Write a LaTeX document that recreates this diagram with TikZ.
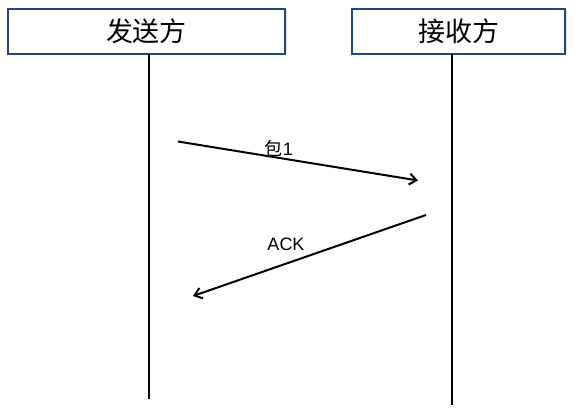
\documentclass[tikz,border=0pt]{standalone}
\usepackage{fontspec}
\setmainfont{Liberation Sans}
\newfontfamily\cjk{Noto Sans CJK SC}
\usetikzlibrary{arrows.meta,shadows}
\definecolor{boxblue}{RGB}{31,73,125}
\tikzset{
  party/.style={draw=boxblue, line width=2.4pt, fill=white, minimum height=45pt,
    inner sep=0pt, font=\cjk\fontsize{27}{30}\selectfont,
    drop shadow={shadow xshift=1.5pt, shadow yshift=-1.5pt, opacity=0.25}},
  lifeline/.style={line width=2pt},
  msg/.style={line width=2pt, -{Straight Barb[length=7pt,width=11pt,line width=2pt]}},
  msglabel/.style={font=\fontsize{18}{20}\selectfont, inner sep=0pt}
}
\begin{document}
\begin{tikzpicture}[x=1pt,y=-1pt]
\useasboundingbox (0,0) rectangle (574,409);
\node[party, minimum width=277pt] (sender) at (146.5,31.5) {发送方};
\node[party, minimum width=213pt] (receiver) at (458.5,31.5) {接收方};
% lifelines
\coordinate (stop) at (149,54);
\coordinate (sbot) at (149,399);
\coordinate (rtop) at (452,54);
\coordinate (rbot) at (452,405);
\draw[lifeline] (stop) -- (sbot);
\draw[lifeline] (rtop) -- (rbot);
% messages
\coordinate (pkta) at (178,141.5);
\coordinate (pktb) at (418,180.5);
\coordinate (acka) at (426,215);
\coordinate (ackb) at (193,296);
\draw[msg] (pkta) -- (pktb);
\draw[msg] (acka) -- (ackb);
\node[msglabel] (pktlabel) at (279,148) {{\cjk 包}1};
\node[msglabel] (acklabel) at (286,244) {ACK};
\end{tikzpicture}
\end{document}
